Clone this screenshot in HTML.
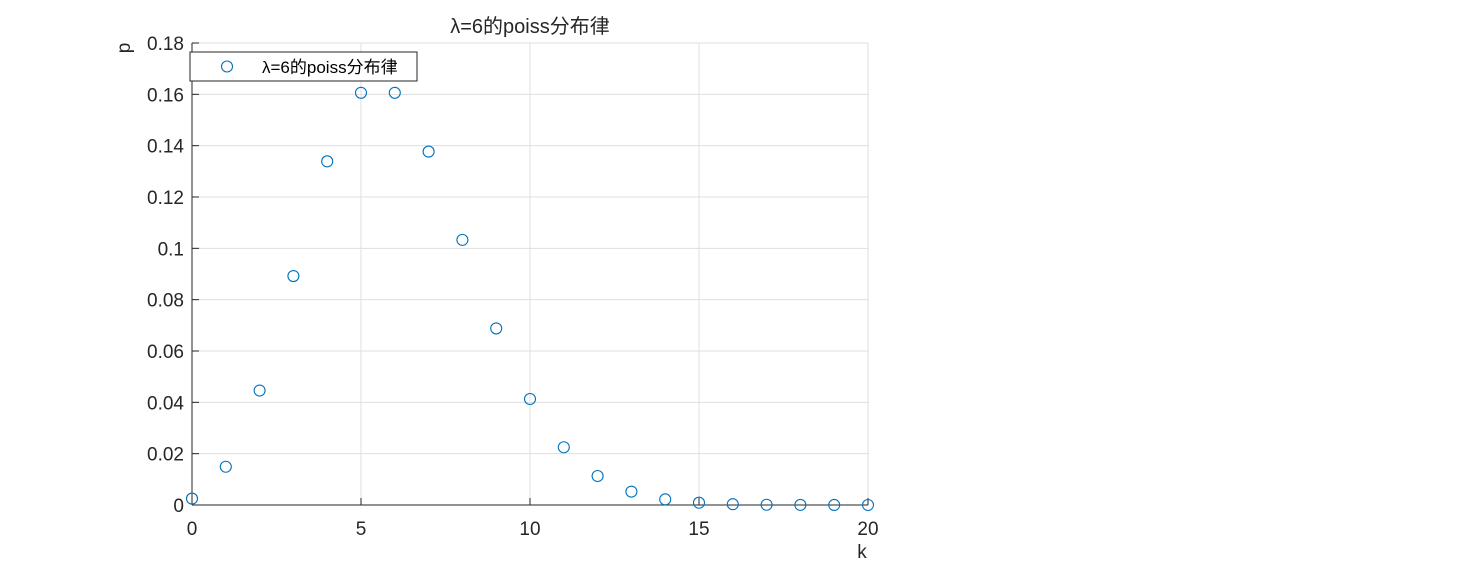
<!DOCTYPE html>
<html><head><meta charset="utf-8"><style>
body{margin:0;background:#fff;width:1476px;height:567px;overflow:hidden}
svg{display:block;font-family:"Liberation Sans","Noto Sans CJK SC",sans-serif}
</style></head><body>
<svg width="1476" height="567">
<g id="grid"></g>
<g id="axes"></g>
<g id="marks"></g>
<text x="530" y="33" font-size="20" text-anchor="middle" fill="#262626">λ=6的poiss分布律</text>
<text x="862" y="558" font-size="19" text-anchor="middle" fill="#262626">k</text>
<text transform="translate(130,48) rotate(-90)" font-size="19" text-anchor="middle" fill="#262626">p</text>
<g>
<rect x="190" y="52" width="227" height="29" fill="#fff" stroke="#262626" stroke-width="1"/>
<circle cx="227" cy="66.5" r="5.5" fill="none" stroke="#0072BD" stroke-width="1.1"/>
<text x="262" y="73" font-size="17" fill="#000">λ=6的poiss分布律</text>
</g>
</svg>
<script>
const categories=[0,1,2,3,4,5,6,7,8,9,10,11,12,13,14,15,16,17,18,19,20];
const values=[0.0025,0.0149,0.0446,0.0892,0.1339,0.1606,0.1606,0.1377,0.1033,0.0688,0.0413,0.0225,0.0113,0.0052,0.0022,0.0009,0.0003,0.0001,0.00004,0.00001,0.000004];
const xTicks=[0,5,10,15,20];
const yTicks=[0,0.02,0.04,0.06,0.08,0.1,0.12,0.14,0.16,0.18];
const yLabels=["0","0.02","0.04","0.06","0.08","0.1","0.12","0.14","0.16","0.18"];
const L=192,R=868,T=43,B=505;
const sx=v=>L+(v-0)/(20-0)*(R-L);
const sy=v=>B-(v/0.18)*(B-T);
const NS="http://www.w3.org/2000/svg";
function mk(tag,a,parent){const e=document.createElementNS(NS,tag);for(const k in a)e.setAttribute(k,a[k]);parent.appendChild(e);return e;}
const grid=document.getElementById('grid'),axes=document.getElementById('axes'),marks=document.getElementById('marks');
xTicks.forEach(t=>{
 const g=mk('line',{x1:sx(t),x2:sx(t),y1:T,y2:B,stroke:'#dfdfdf','stroke-width':1},grid);
 
 
 const tk=mk('line',{x1:sx(t),x2:sx(t),y1:B,y2:B-7,stroke:'#262626','stroke-width':1},axes);
 
 
 const tx=mk('text',{x:sx(t),y:B+30,'font-size':19,'text-anchor':'middle',fill:'#262626'},axes);
 tx.textContent=t;
 
 
});
yTicks.forEach((t,i)=>{
 const g=mk('line',{x1:L,x2:R,y1:sy(t),y2:sy(t),stroke:'#dfdfdf','stroke-width':1},grid);
 
 
 const tk=mk('line',{x1:L,x2:L+7,y1:sy(t),y2:sy(t),stroke:'#262626','stroke-width':1},axes);
 
 
 const tx=mk('text',{x:L-8,y:sy(t)+7,'font-size':19,'text-anchor':'end',fill:'#262626'},axes);
 tx.textContent=yLabels[i];
 
 
});
const xa=mk('line',{x1:L,x2:R,y1:B,y2:B,stroke:'#262626','stroke-width':1},axes);


const ya=mk('line',{x1:L,x2:L,y1:T,y2:B,stroke:'#262626','stroke-width':1},axes);


categories.forEach((k,i)=>{
 const c=mk('circle',{cx:sx(k),cy:sy(values[i]),r:5.5,fill:'none',stroke:'#0072BD','stroke-width':1.1},marks);
 
 
});
</script>
</body></html>
